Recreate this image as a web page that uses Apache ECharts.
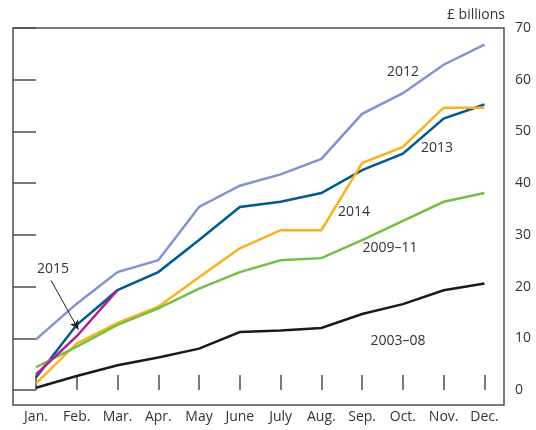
<!DOCTYPE html>
<html><head><meta charset="utf-8">
<script src="https://cdn.jsdelivr.net/npm/echarts@6/dist/echarts.min.js"></script>
<style>html,body{margin:0;padding:0;background:#fff}#c{width:536px;height:430px}</style>
</head><body><div id="c"></div>
<script>
const months = ['Jan.','Feb.','Mar.','Apr.','May','June','July','Aug.','Sep.','Oct.','Nov.','Dec.'];
const yTicks = [0,10,20,30,40,50,60,70];
const s2012 = [9.8,16.7,22.8,25.1,35.4,39.5,41.7,44.7,53.4,57.4,62.9,66.8];
const s2013 = [2.4,12.6,19.3,22.8,29.0,35.4,36.4,38.1,42.5,45.7,52.5,55.2];
const s2014 = [1.3,9.0,13.0,16.1,21.8,27.4,30.9,30.9,43.9,47.0,54.6,54.6];
const s2015 = [3.0,10.4,19.3];
const s0911 = [4.4,8.4,12.6,15.8,19.6,22.8,25.1,25.5,29.0,32.7,36.4,38.1];
const s0308 = [0.45,2.7,4.8,6.3,8.0,11.2,11.5,12.0,14.7,16.6,19.3,20.6];
const arrow2015 = [[0.37,21.2],[1.04,11.7]];

const FONT = "'Open Sans', 'Noto Sans', sans-serif";
const pairs = a => a.map((v,i)=>[i,v]);
const chart = echarts.init(document.getElementById('c'), null, {renderer:'canvas'});
function line(name, data, color, z){
  return {name, type:'line', data:pairs(data), symbol:'none', z,
    lineStyle:{color, width:2.5, join:'miter'}, animation:false};
}
const s15 = line('2015', s2015, '#b41e8e', 10);
s15.markLine = {silent:true, animation:false, symbol:['none','arrow'], symbolSize:[7,9],
  label:{show:false}, lineStyle:{color:'#222', width:1, type:'solid'},
  data:[[{coord:arrow2015[0]},{coord:arrow2015[1]}]]};
const txt = (t,x,y)=>({type:'text', x, y, style:{text:t, fill:'#333', font:'14px '+FONT, textAlign:'center', textVerticalAlign:'middle'}});
chart.setOption({
  animation:false,
  grid:{left:13, right:32, top:28, bottom:25, show:true, borderColor:'#4d4d4d', borderWidth:1.5, backgroundColor:'transparent'},
  xAxis:{type:'value', min:-0.564, max:11.48, splitLine:{show:false}, axisLine:{show:false},
    axisTick:{show:true, inside:true, length:15, customValues:months.map((m,i)=>i), lineStyle:{color:'#4d4d4d', width:1.5}},
    axisLabel:{customValues:months.map((m,i)=>i), formatter:v=>months[v], color:'#333', fontSize:14, fontFamily:FONT, margin:5}},
  yAxis:[
    {type:'value', position:'right', min:-2.9, max:70, splitLine:{show:false}, axisLine:{show:false},
     axisTick:{show:true, inside:true, length:15, customValues:yTicks, lineStyle:{color:'#4d4d4d', width:1.5}},
     axisLabel:{customValues:yTicks, color:'#333', fontSize:14, fontFamily:FONT, margin:11, align:'left'}},
    {type:'value', position:'left', min:-2.9, max:70, splitLine:{show:false}, axisLine:{show:false},
     axisTick:{show:true, inside:true, length:15, customValues:yTicks, lineStyle:{color:'#4d4d4d', width:1.5}},
     axisLabel:{show:false}}
  ],
  graphic:[
    {type:'text', x:505, y:15, style:{text:'£ billions', fill:'#333', font:'14px '+FONT, textAlign:'right', textVerticalAlign:'middle'}},
    txt('2012',403,72), txt('2013',437,148), txt('2014',354,212), txt('2009–11',390,248),
    txt('2003–08',398,341), txt('2015',53,269)
  ],
  series:[
    line('2012', s2012, '#8392d1', 3),
    line('2013', s2013, '#005b8f', 4),
    line('2014', s2014, '#f9b21d', 5),
    line('2009–11', s0911, '#72bf44', 6),
    line('2003–08', s0308, '#1a1a1a', 7),
    s15
  ]
});
</script></body></html>
